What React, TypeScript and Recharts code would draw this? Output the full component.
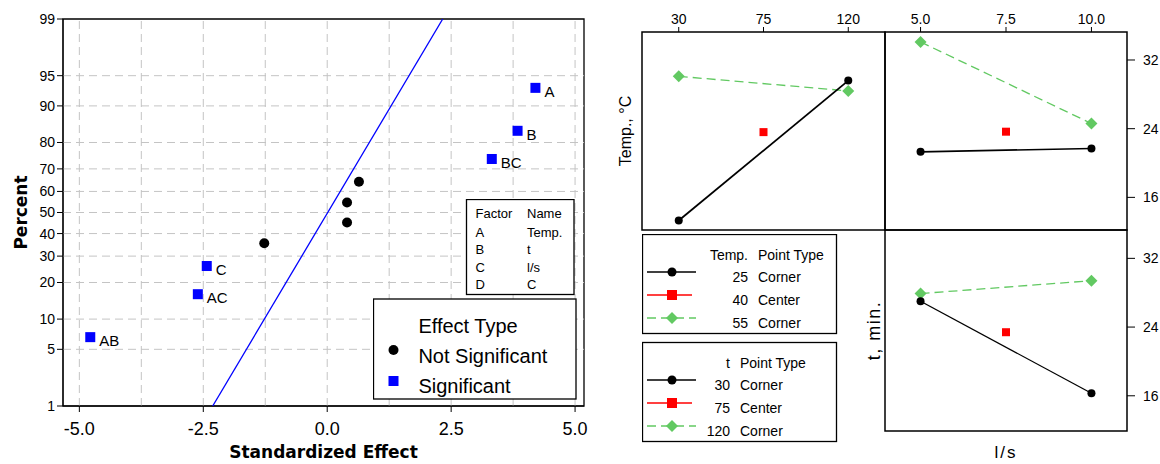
import React from 'react'
import {
  ComposedChart,
  Scatter,
  Line,
  XAxis,
  YAxis,
  ReferenceLine,
  ReferenceArea,
  Legend,
} from 'recharts'

// ---- normal probability plot of effects ----
const pctTicks = [1, 5, 10, 20, 30, 40, 50, 60, 70, 80, 90, 95, 99]
const pctGrid = [5, 10, 20, 30, 40, 50, 60, 70, 80, 90, 95]
const effectTicks = [-5, -2.5, 0, 2.5, 5]
const effectGrid = [-5, -3.75, -2.5, -1.25, 0, 1.25, 2.5, 3.75, 5]

const sigNames = ['AB', 'AC', 'C', 'BC', 'B', 'A']
const sigEffect = [-4.78, -2.61, -2.43, 3.32, 3.84, 4.2]
const sigPct = [6.7, 16.3, 26.0, 74.0, 83.7, 93.3]

const nsEffect = [-1.27, 0.4, 0.4, 0.64]
const nsPct = [35.6, 45.2, 54.8, 64.4]

const fitEffect = [-2.31, 2.33]
const fitPct = [1, 99]

const factorRows = [
  ['A', 'Temp.'],
  ['B', 't'],
  ['C', 'l/s'],
  ['D', 'C'],
]

// ---- interaction plots ----
const tLevels = [30, 75, 120]
const lsLevels = [5, 7.5, 10]
const respTicks = [16, 24, 32]

// top-left: response vs t, by Temp.
const tl25 = [13.3, 29.6]
const tl55 = [30.1, 28.4]
const tl40 = 23.6
// top-right: response vs l/s, by Temp.
const tr25 = [21.3, 21.7]
const tr55 = [34.1, 24.6]
const tr40 = 23.65
// bottom-right: response vs l/s, by t
const br30 = [27.0, 16.3]
const br120 = [27.9, 29.4]
const br75 = 23.4

const GREEN = '#62c962'

// inverse normal cdf (Acklam)
function probit(p: number): number {
  const a = [-39.69683028665376, 220.9460984245205, -275.9285104469687, 138.357751867269, -30.66479806614716, 2.506628277459239]
  const b = [-54.47609879822406, 161.5858368580409, -155.6989798598866, 66.80131188771972, -13.28068155288572]
  const c = [-0.007784894002430293, -0.3223964580411365, -2.400758277161838, -2.549732539343734, 4.374664141464968, 2.938163982698783]
  const d = [0.007784695709041462, 0.3224671290700398, 2.445134137142996, 3.754408661907416]
  const pl = 0.02425
  if (p < pl) {
    const q = Math.sqrt(-2 * Math.log(p))
    return (((((c[0] * q + c[1]) * q + c[2]) * q + c[3]) * q + c[4]) * q + c[5]) / ((((d[0] * q + d[1]) * q + d[2]) * q + d[3]) * q + 1)
  }
  if (p > 1 - pl) {
    const q = Math.sqrt(-2 * Math.log(1 - p))
    return -(((((c[0] * q + c[1]) * q + c[2]) * q + c[3]) * q + c[4]) * q + c[5]) / ((((d[0] * q + d[1]) * q + d[2]) * q + d[3]) * q + 1)
  }
  const q = p - 0.5
  const r = q * q
  return ((((((a[0] * r + a[1]) * r + a[2]) * r + a[3]) * r + a[4]) * r + a[5]) * q) / (((((b[0] * r + b[1]) * r + b[2]) * r + b[3]) * r + b[4]) * r + 1)
}

const z = (pct: number) => probit(pct / 100)
const zLo = z(1)
const zHi = z(99)
const zTicks = pctTicks.map(z)

const sigData = sigNames.map((name, i) => ({ name, x: sigEffect[i], z: z(sigPct[i]) }))
const nsData = nsEffect.map((x, i) => ({ x, z: z(nsPct[i]) }))
const fitData = fitEffect.map((x, i) => ({ x, z: z(fitPct[i]) }))

const pair = (xs: number[], ys: number[]) => [
  { x: xs[0], y: ys[0] },
  { x: xs[xs.length - 1], y: ys[1] },
]

const SANS = '"Liberation Sans", Arial, sans-serif'
const BOLD = '"DejaVu Sans", Verdana, sans-serif'

function blackDot(p: any) {
  return <circle key={'b' + p.index} cx={p.cx} cy={p.cy} r={4} fill="#000" />
}
function greenDiamond(p: any) {
  const s = 6
  return (
    <path
      key={'g' + p.index}
      d={`M${p.cx},${p.cy - s}L${p.cx + s},${p.cy}L${p.cx},${p.cy + s}L${p.cx - s},${p.cy}Z`}
      fill={GREEN}
    />
  )
}
function redSquare(p: any) {
  return <rect x={p.cx - 4} y={p.cy - 4} width={8} height={8} fill="#ff0000" />
}

function EffectKey() {
  return (
    <svg width={206} height={202} style={{ fontFamily: SANS, display: 'block' }}>
      <rect x={93.5} y={0.5} width={107.5} height={95} fill="#fff" stroke="#000" strokeWidth={1.3} />
      <text x={102.5} y={19} fontSize={13}>Factor</text>
      <text x={154} y={19} fontSize={13}>Name</text>
      {factorRows.map((r, i) => (
        <g key={r[0]}>
          <text x={102.5} y={37.5 + i * 17.6} fontSize={13}>{r[0]}</text>
          <text x={154} y={37.5 + i * 17.6} fontSize={13}>{r[1]}</text>
        </g>
      ))}
      <rect x={0.5} y={100} width={202.5} height={100} fill="#fff" stroke="#000" strokeWidth={1.3} />
      <text x={45.4} y={134} fontSize={20}>Effect Type</text>
      <circle cx={20.5} cy={151} r={5} fill="#000" />
      <text x={45.4} y={163.7} fontSize={20}>Not Significant</text>
      <rect x={15.5} y={177} width={10} height={10} fill="#0000ff" />
      <text x={45.4} y={194} fontSize={20}>Significant</text>
    </svg>
  )
}

function KeyBlock({ y0, head, levels }: { y0: number; head: [string, number]; levels: string[] }) {
  const numEnd = head[1]
  const nameX = numEnd + 10
  return (
    <g>
      <rect x={0.5} y={y0 + 0.5} width={194} height={99} fill="#fff" stroke="#000" strokeWidth={1.3} />
      <text x={numEnd} y={y0 + 25.5} fontSize={14} textAnchor="end">{head[0]}</text>
      <text x={nameX} y={y0 + 25.5} fontSize={14}>Point Type</text>
      {levels.map((lv, i) => {
        const cy = y0 + 38 + i * 23
        const base = cy + 10
        const kind = i === 0 ? 'Corner' : i === 1 ? 'Center' : 'Corner'
        return (
          <g key={lv}>
            {i === 0 && (
              <g>
                <line x1={5} x2={54} y1={cy} y2={cy} stroke="#000" strokeWidth={1.5} />
                <circle cx={30} cy={cy} r={4.5} fill="#000" />
              </g>
            )}
            {i === 1 && (
              <g>
                <line x1={5} x2={50} y1={cy} y2={cy} stroke="#ff0000" strokeWidth={1.3} />
                <rect x={25} y={cy - 5} width={10} height={10} fill="#ff0000" />
              </g>
            )}
            {i === 2 && (
              <g>
                <line x1={5} x2={54} y1={cy} y2={cy} stroke={GREEN} strokeWidth={1.3} strokeDasharray="9 5" />
                <path d={`M30,${cy - 6}L36,${cy}L30,${cy + 6}L24,${cy}Z`} fill={GREEN} />
              </g>
            )}
            <text x={numEnd} y={base} fontSize={14} textAnchor="end">{lv}</text>
            <text x={nameX} y={base} fontSize={14}>{kind}</text>
          </g>
        )
      })}
    </g>
  )
}

function InteractionKey() {
  return (
    <svg width={196} height={210} style={{ fontFamily: SANS, display: 'block' }}>
      <KeyBlock y0={0} head={['Temp.', 106]} levels={['25', '40', '55']} />
      <KeyBlock y0={108} head={['t', 88]} levels={['30', '75', '120']} />
    </svg>
  )
}

const rotTitle = (text: string, dx: number, size: number, spacing = 0) => (props: any) => {
  const vb = props.viewBox
  const x = vb.x + dx
  const y = vb.y + vb.height / 2
  return (
    <text
      x={x}
      y={y}
      transform={`rotate(-90, ${x}, ${y})`}
      textAnchor="middle"
      fontSize={size}
      letterSpacing={spacing}
      fill="#000"
      style={{ fontFamily: SANS }}
    >
      {text}
    </text>
  )
}

function EffectsPlot() {
  const xDom: [number, number] = [-5.33, 5.18]
  return (
    <ComposedChart width={600} height={464} margin={{ top: 19, right: 16, bottom: 0, left: 0 }}>
      <XAxis
        type="number"
        dataKey="x"
        domain={xDom}
        allowDataOverflow
        ticks={effectTicks}
        tickFormatter={(v: number) => v.toFixed(1)}
        height={58}
        tickSize={6}
        tickMargin={10}
        stroke="#000"
        tick={{ fontSize: 18, fill: '#000' }}
        label={{
          content: (p: any) => (
            <text
              x={p.viewBox.x + p.viewBox.width / 2}
              y={458}
              textAnchor="middle"
              fontSize={17}
              fontWeight="bold"
              style={{ fontFamily: BOLD }}
            >
              Standardized Effect
            </text>
          ),
        }}
      />
      <YAxis
        type="number"
        dataKey="z"
        domain={[zLo, zHi]}
        allowDataOverflow
        ticks={zTicks}
        tickFormatter={(v: number) => {
          const i = zTicks.findIndex((t) => Math.abs(t - v) < 1e-6)
          return i >= 0 ? String(pctTicks[i]) : ''
        }}
        width={63}
        tickSize={6}
        stroke="#000"
        tick={{ fontSize: 14, fill: '#000' }}
        label={{
          content: (p: any) => {
            const x = 26.5
            const y = p.viewBox.y + p.viewBox.height / 2
            return (
              <text
                x={x}
                y={y}
                transform={`rotate(-90, ${x}, ${y})`}
                textAnchor="middle"
                fontSize={17}
                fontWeight="bold"
                style={{ fontFamily: BOLD }}
              >
                Percent
              </text>
            )
          },
        }}
      />
      {effectGrid.map((v) => (
        <ReferenceLine key={'gx' + v} x={v} stroke="#c4c4c4" strokeDasharray="8 5" />
      ))}
      {pctGrid.map((p) => (
        <ReferenceLine key={'gy' + p} y={z(p)} stroke="#c4c4c4" strokeDasharray="8 5" />
      ))}
      <ReferenceArea x1={xDom[0]} x2={xDom[1]} y1={zLo} y2={zHi} fill="none" stroke="#000" strokeWidth={1.3} />
      <Scatter
        data={fitData}
        dataKey="z"
        line={{ stroke: '#0000ff', strokeWidth: 1.3 }}
        shape={() => <g />}
        legendType="none"
        isAnimationActive={false}
      />
      <Scatter
        name="Not Significant"
        data={nsData}
        dataKey="z"
        shape={(p: any) => <circle cx={p.cx} cy={p.cy} r={5} fill="#000" />}
        isAnimationActive={false}
      />
      <Scatter
        name="Significant"
        data={sigData}
        dataKey="z"
        shape={(p: any) => (
          <g>
            <rect x={p.cx - 5} y={p.cy - 5} width={10} height={10} fill="#0000ff" />
            <text x={p.cx + 9} y={p.cy + 9} fontSize={15} fill="#000" style={{ fontFamily: SANS }}>
              {p.payload.name}
            </text>
          </g>
        )}
        isAnimationActive={false}
      />
      <Legend
        layout="horizontal"
        verticalAlign="middle"
        align="center"
        content={() => <EffectKey />}
        wrapperStyle={{ position: 'absolute', left: 373, top: 199, width: 206, height: 202 }}
      />
    </ComposedChart>
  )
}

function TempVsT() {
  const xDom: [number, number] = [10.5, 139.5]
  const yDom: [number, number] = [12.2, 35.26]
  return (
    <ComposedChart width={277} height={232} margin={{ top: 0, right: 2, bottom: 2, left: 0 }}>
      <XAxis
        type="number"
        dataKey="x"
        orientation="top"
        domain={xDom}
        allowDataOverflow
        ticks={tLevels}
        height={32}
        tickSize={5}
        tickMargin={3}
        axisLine={false}
        stroke="#000"
        tick={{ fontSize: 14, fill: '#000' }}
      />
      <YAxis
        type="number"
        domain={yDom}
        allowDataOverflow
        width={32}
        tick={false}
        tickLine={false}
        axisLine={false}
        label={{ content: rotTitle('Temp., °C', 21, 16) }}
      />
      <ReferenceArea x1={xDom[0]} x2={xDom[1]} y1={yDom[0]} y2={yDom[1]} fill="none" stroke="#000" strokeWidth={1.5} />
      <Line data={pair([tLevels[0], tLevels[2]], tl55)} dataKey="y" stroke={GREEN} strokeWidth={1.3} strokeDasharray="9 5" dot={greenDiamond} isAnimationActive={false} />
      <Line data={pair([tLevels[0], tLevels[2]], tl25)} dataKey="y" stroke="#000" strokeWidth={1.8} dot={blackDot} isAnimationActive={false} />
      <Scatter data={[{ x: tLevels[1], y: tl40 }]} dataKey="y" shape={redSquare} isAnimationActive={false} />
    </ComposedChart>
  )
}

function TempVsLs() {
  const xDom: [number, number] = [3.96, 11.04]
  const yDom: [number, number] = [12.2, 35.26]
  return (
    <ComposedChart width={277} height={232} margin={{ top: 0, right: 0, bottom: 2, left: 2 }}>
      <XAxis
        type="number"
        dataKey="x"
        orientation="top"
        domain={xDom}
        allowDataOverflow
        ticks={lsLevels}
        tickFormatter={(v: number) => v.toFixed(1)}
        height={32}
        tickSize={5}
        tickMargin={3}
        axisLine={false}
        stroke="#000"
        tick={{ fontSize: 14, fill: '#000' }}
      />
      <YAxis
        type="number"
        orientation="right"
        domain={yDom}
        allowDataOverflow
        ticks={respTicks}
        width={33}
        tickSize={8}
        tickMargin={8}
        axisLine={false}
        stroke="#000"
        tick={{ fontSize: 14, fill: '#000' }}
      />
      <ReferenceArea x1={xDom[0]} x2={xDom[1]} y1={yDom[0]} y2={yDom[1]} fill="none" stroke="#000" strokeWidth={1.5} />
      <Line data={pair([lsLevels[0], lsLevels[2]], tr55)} dataKey="y" stroke={GREEN} strokeWidth={1.3} strokeDasharray="9 5" dot={greenDiamond} isAnimationActive={false} />
      <Line data={pair([lsLevels[0], lsLevels[2]], tr25)} dataKey="y" stroke="#000" strokeWidth={1.6} dot={blackDot} isAnimationActive={false} />
      <Scatter data={[{ x: lsLevels[1], y: tr40 }]} dataKey="y" shape={redSquare} isAnimationActive={false} />
    </ComposedChart>
  )
}

function TimeVsLs() {
  const xDom: [number, number] = [3.96, 11.04]
  const yDom: [number, number] = [11.9, 35.3]
  return (
    <ComposedChart width={520} height={236} margin={{ top: 2, right: 0, bottom: 0, left: 211 }}>
      <XAxis
        type="number"
        dataKey="x"
        domain={xDom}
        allowDataOverflow
        ticks={lsLevels}
        height={33}
        tick={false}
        tickLine={false}
        axisLine={false}
        label={{
          content: (p: any) => (
            <text
              x={p.viewBox.x + p.viewBox.width / 2}
              y={p.viewBox.y + 27}
              textAnchor="middle"
              fontSize={17}
              letterSpacing={2}
              style={{ fontFamily: SANS }}
            >
              l/s
            </text>
          ),
        }}
      />
      <YAxis
        yAxisId="lab"
        type="number"
        domain={yDom}
        width={34}
        tick={false}
        tickLine={false}
        axisLine={false}
        label={{ content: rotTitle('t, min.', 29, 18, 1.5) }}
      />
      <YAxis
        yAxisId="r"
        type="number"
        orientation="right"
        domain={yDom}
        allowDataOverflow
        ticks={respTicks}
        width={33}
        tickSize={8}
        tickMargin={8}
        axisLine={false}
        stroke="#000"
        tick={{ fontSize: 14, fill: '#000' }}
      />
      <ReferenceArea yAxisId="r" x1={xDom[0]} x2={xDom[1]} y1={yDom[0]} y2={yDom[1]} fill="none" stroke="#000" strokeWidth={1.5} />
      <Line yAxisId="r" name="120" data={pair([lsLevels[0], lsLevels[2]], br120)} dataKey="y" stroke={GREEN} strokeWidth={1.3} strokeDasharray="9 5" dot={greenDiamond} isAnimationActive={false} />
      <Line yAxisId="r" name="30" data={pair([lsLevels[0], lsLevels[2]], br30)} dataKey="y" stroke="#000" strokeWidth={1.3} dot={blackDot} isAnimationActive={false} />
      <Scatter yAxisId="r" name="75" data={[{ x: lsLevels[1], y: br75 }]} dataKey="y" shape={redSquare} isAnimationActive={false} />
      <Legend
        layout="horizontal"
        verticalAlign="middle"
        align="center"
        content={() => <InteractionKey />}
        wrapperStyle={{ position: 'absolute', left: 2, top: 6, width: 196, height: 210 }}
      />
    </ComposedChart>
  )
}

export default function App() {
  return (
    <div
      style={{
        position: 'fixed',
        left: 0,
        top: 0,
        width: 1160,
        height: 464,
        background: '#fff',
        fontFamily: SANS,
        overflow: 'hidden',
      }}
    >
      <div style={{ position: 'absolute', left: 0, top: 0 }}>
        <EffectsPlot />
      </div>
      <div style={{ position: 'absolute', left: 610, top: 0 }}>
        <TempVsT />
      </div>
      <div style={{ position: 'absolute', left: 883, top: 0 }}>
        <TempVsLs />
      </div>
      <div style={{ position: 'absolute', left: 640, top: 228 }}>
        <TimeVsLs />
      </div>
    </div>
  )
}
